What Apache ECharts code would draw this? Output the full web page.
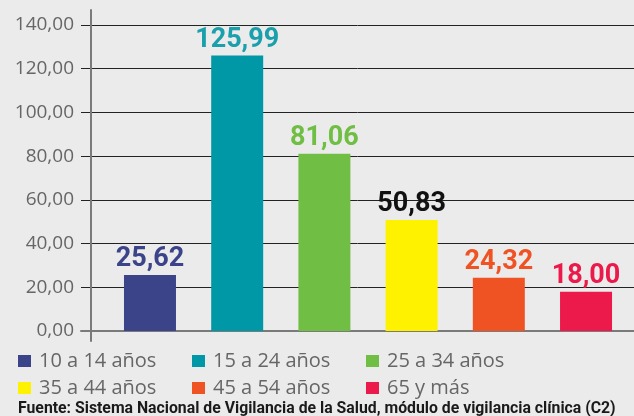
<!DOCTYPE html>
<html>
<head>
<meta charset="utf-8">
<script src="https://cdn.jsdelivr.net/npm/echarts@6/dist/echarts.min.js"></script>
<style>
html, body { margin: 0; padding: 0; background: #ecebeb; }
#chart { width: 634px; height: 416px; }
</style>
</head>
<body>
<div id="chart"></div>
<script>
// datos por grupo de edad
var grupos = ['10 a 14 años', '15 a 24 años', '25 a 34 años', '35 a 44 años', '45 a 54 años', '65 y más']
var tasas = [25.62, 125.99, 81.06, 50.83, 24.32, 18.00]
var colores = ['#3c4489', '#0098a6', '#71be44', '#fff200', '#f05323', '#ec1a4a']
var coloresEtiqueta = ['#3c4489', '#1a9fac', '#71be44', '#111111', '#f05323', '#ec1a4a']
var fuente = 'Fuente: Sistema Nacional de Vigilancia de la Salud, módulo de vigilancia clínica (C2)'

function coma (v) {
    return v.toFixed(2).replace('.', ',')
}

var myChart = echarts.init(document.getElementById('chart'))

var series = grupos.map(function (g, i) {
    return {
        name: g,
        type: 'bar',
        stack: 'edad',
        xAxisIndex: 0,
        yAxisIndex: 0,
        barWidth: 52,
        data: [[i, tasas[i]]],
        itemStyle: { color: colores[i] },
        label: {
            show: true,
            position: 'top',
            distance: 2,
            color: coloresEtiqueta[i],
            fontFamily: 'Roboto, sans-serif',
            fontWeight: 'bold',
            fontSize: 27,
            formatter: function (p) { return coma(p.value[1]) }
        }
    }
})

// dos filas de leyenda, tres grupos cada una
function leyenda (items, top) {
    return {
        data: items,
        left: 13,
        top: top,
        width: 600,
        icon: 'rect',
        itemWidth: 13,
        itemHeight: 12,
        itemGap: 12,
        textStyle: {
            fontFamily: '"Open Sans", sans-serif',
            fontSize: 20,
            lineHeight: 20,
            color: '#666666',
            width: 141,
            padding: [0, 0, 0, 3]
        }
    }
}

myChart.setOption({
    backgroundColor: '#ecebeb',
    animation: false,
    title: {
        text: fuente,
        left: 13,
        top: 396,
        textStyle: {
            fontFamily: 'Roboto, sans-serif',
            fontWeight: 'bold',
            fontSize: 15.8,
            lineHeight: 16,
            color: '#1a1a1a'
        }
    },
    legend: [
        leyenda(grupos.slice(0, 3), 346),
        leyenda(grupos.slice(3), 373)
    ],
    grid: [
        { left: 81, right: 0, top: 25, bottom: 85 },
        { left: 91, right: 0, top: 10, bottom: 75 }
    ],
    xAxis: [{
        gridIndex: 0,
        type: 'value',
        min: -0.791,
        max: 5.55,
        axisLine: { show: true, lineStyle: { color: '#7a7a7a', width: 2 } },
        axisTick: { show: false },
        axisLabel: { show: false },
        splitLine: { show: false }
    }, {
        gridIndex: 1,
        type: 'value',
        show: false
    }],
    yAxis: [{
        gridIndex: 0,
        type: 'value',
        min: 0,
        max: 140,
        interval: 20,
        axisLine: { show: false },
        axisTick: { show: false },
        axisLabel: {
            margin: 7,
            padding: [0, 0, 14, 0],
            fontFamily: '"Open Sans", sans-serif',
            fontSize: 19,
            color: '#666666',
            formatter: function (v) { return coma(v) }
        },
        splitLine: { show: true, lineStyle: { color: '#222222', width: 1 } }
    }, {
        gridIndex: 1,
        type: 'value',
        axisLine: { show: true, lineStyle: { color: '#7a7a7a', width: 2 } },
        axisTick: { show: false },
        axisLabel: { show: false },
        splitLine: { show: false }
    }],
    series: series
})
</script>
</body>
</html>
